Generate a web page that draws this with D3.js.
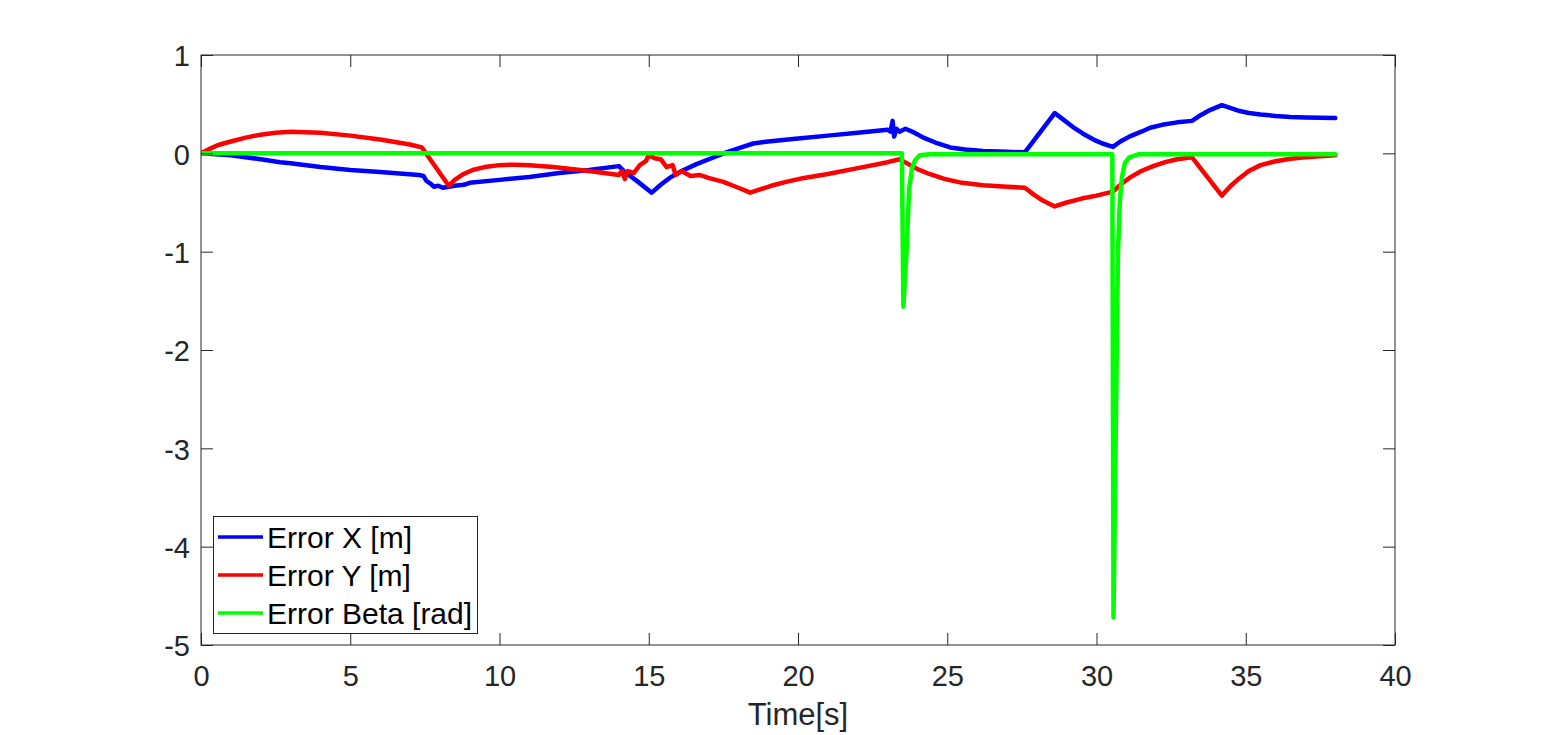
<!DOCTYPE html>
<html>
<head>
<meta charset="utf-8">
<script src="https://cdn.jsdelivr.net/npm/d3@7"></script>
<style>
  html, body { margin: 0; padding: 0; background: #ffffff; }
  svg { display: block; }
  text { font-family: "Liberation Sans", Arial, Helvetica, sans-serif; fill: #262626; }
</style>
</head>
<body>
<svg id="chart" width="1542" height="735"></svg>
<script>
// ---- Data ----
const xTicks = [0, 5, 10, 15, 20, 25, 30, 35, 40];
const yTicks = [1, 0, -1, -2, -3, -4, -5];
const seriesNames = ["Error X [m]", "Error Y [m]", "Error Beta [rad]"];
const seriesColors = ["#0000ff", "#ff0000", "#00ff00"];
const xLabel = "Time[s]";

// Error X [m]  : [time, value]
const errorX = [
  [0, 0], [1, -0.02], [2, -0.06], [2.65, -0.09], [3, -0.10], [4, -0.14], [5, -0.17],
  [6, -0.19], [7.3, -0.22], [7.45, -0.23], [7.55, -0.28], [7.7, -0.31], [7.8, -0.34],
  [7.95, -0.33], [8.1, -0.35], [8.3, -0.34], [8.5, -0.33], [8.8, -0.32], [9, -0.30],
  [10, -0.27], [11, -0.24], [12, -0.20], [13, -0.17], [14, -0.13], [14.2, -0.19],
  [14.6, -0.28], [15.1, -0.40], [15.4, -0.32], [15.7, -0.25], [16.1, -0.18],
  [16.6, -0.11], [17.1, -0.05], [17.6, 0.01], [18.1, 0.06], [18.5, 0.10], [19, 0.12],
  [20, 0.15], [21, 0.18], [22, 0.21], [23, 0.24],
  [23.1, 0.22], [23.17, 0.33], [23.22, 0.17], [23.3, 0.25], [23.4, 0.22], [23.6, 0.25],
  [23.9, 0.21], [24.2, 0.16], [24.6, 0.11], [25.1, 0.06], [25.6, 0.04], [26.2, 0.025],
  [27, 0.015], [27.6, 0.01],
  [28.6, 0.41], [28.9, 0.34], [29.2, 0.27], [29.55, 0.20], [29.9, 0.14], [30.2, 0.10],
  [30.55, 0.065], [30.8, 0.12], [31.1, 0.17], [31.5, 0.22], [31.8, 0.26], [32.2, 0.29],
  [32.7, 0.315], [33.2, 0.33], [33.5, 0.39], [33.8, 0.44], [34.2, 0.49],
  [34.5, 0.46], [34.8, 0.43], [35.1, 0.41], [35.5, 0.395], [36, 0.38], [36.5, 0.37],
  [37, 0.365], [38, 0.36]
];

// Error Y [m]
const errorY = [
  [0, 0], [0.25, 0.04], [0.5, 0.075], [0.75, 0.1], [1, 0.12], [1.5, 0.16], [2, 0.19],
  [2.5, 0.21], [3, 0.22], [4, 0.21], [5, 0.18], [6, 0.14], [7, 0.09], [7.4, 0.06],
  [8.3, -0.33], [8.5, -0.27], [8.8, -0.21], [9.1, -0.17], [9.5, -0.14], [10, -0.12],
  [10.5, -0.115], [11, -0.12], [11.8, -0.14], [13, -0.18],
  [14, -0.22], [14.1, -0.18], [14.2, -0.26], [14.3, -0.18], [14.5, -0.20], [14.7, -0.12],
  [14.9, -0.08], [15.0, -0.02], [15.2, -0.05], [15.4, -0.06], [15.6, -0.14], [15.8, -0.12],
  [15.9, -0.22], [16.1, -0.18], [16.4, -0.23], [16.7, -0.22], [17, -0.25], [17.5, -0.29],
  [18, -0.35], [18.4, -0.40], [18.7, -0.37], [19.1, -0.33], [19.6, -0.29], [20.2, -0.25],
  [21, -0.21], [22, -0.15], [23, -0.09], [23.4, -0.06],
  [23.7, -0.11], [24.0, -0.16], [24.4, -0.21], [24.9, -0.26], [25.5, -0.30],
  [26.2, -0.325], [27, -0.34], [27.6, -0.35], [27.9, -0.42], [28.2, -0.48], [28.6, -0.54],
  [29, -0.50], [29.5, -0.46], [30, -0.43], [30.55, -0.39],
  [30.8, -0.32], [31.1, -0.25], [31.5, -0.18], [31.9, -0.13], [32.3, -0.09], [32.7, -0.06],
  [33.2, -0.04], [34.2, -0.43], [34.5, -0.33], [34.8, -0.25], [35.1, -0.18], [35.5, -0.12],
  [36, -0.08], [36.5, -0.055], [37, -0.04], [37.5, -0.03], [38, -0.02]
];

// Error Beta [rad]
const errorBeta = [
  [0, 0], [23.48, 0], [23.53, -1.56], [23.64, -0.98], [23.72, -0.37], [23.82, -0.15],
  [23.92, -0.07], [24.08, -0.02], [24.4, -0.01], [30.53, -0.01], [30.57, -4.72],
  [30.68, -2.0], [30.72, -1.0], [30.78, -0.5], [30.85, -0.25], [30.95, -0.10],
  [31.1, -0.04], [31.4, -0.01], [38, -0.01]
];

const seriesData = [errorX, errorY, errorBeta];

// ---- Layout ----
const svg = d3.select("#chart");
const mLeft = 201, mRight = 1395, mTop = 55, mBottom = 645;
const x = d3.scaleLinear().domain([0, 40]).range([mLeft, mRight]);
const y = d3.scaleLinear().domain([-5, 1]).range([mBottom, mTop]);
const tickLen = 12;
const axisColor = "#262626";
const fmt = d => String(d);

// Lines (clipped to plot area)
svg.append("clipPath").attr("id", "clip")
  .append("rect").attr("x", mLeft).attr("y", mTop).attr("width", mRight - mLeft).attr("height", mBottom - mTop);

const line = d3.line().x(d => x(d[0])).y(d => y(d[1]));
const g = svg.append("g").attr("clip-path", "url(#clip)");
seriesData.forEach((s, i) => {
  g.append("path").datum(s)
    .attr("d", line)
    .attr("fill", "none")
    .attr("stroke", seriesColors[i])
    .attr("stroke-width", 4.5)
    .attr("stroke-linejoin", "round")
    .attr("stroke-linecap", "round");
});

// Axes
function styleAxis(sel) {
  sel.select(".domain").remove();
  sel.selectAll(".tick line").attr("stroke", axisColor).attr("stroke-width", 1);
  sel.selectAll("text").attr("fill", axisColor).style("font-family", "'Liberation Sans', Arial, Helvetica, sans-serif");
}

const xAxis = d3.axisBottom(x).tickValues(xTicks).tickFormat(fmt)
  .tickSizeInner(-tickLen).tickSizeOuter(0).tickPadding(20);
svg.append("g").attr("transform", `translate(0,${mBottom})`).call(xAxis).call(styleAxis)
  .selectAll("text").style("font-size", "29px");

const xAxisTop = d3.axisTop(x).tickValues(xTicks).tickFormat("")
  .tickSizeInner(-tickLen).tickSizeOuter(0);
svg.append("g").attr("transform", `translate(0,${mTop})`).call(xAxisTop).call(styleAxis);

const yAxis = d3.axisLeft(y).tickValues(yTicks).tickFormat(fmt)
  .tickSizeInner(-tickLen).tickSizeOuter(0).tickPadding(11);
svg.append("g").attr("transform", `translate(${mLeft},0)`).call(yAxis).call(styleAxis)
  .selectAll("text").style("font-size", "29px").attr("dy", "0.37em");

const yAxisRight = d3.axisRight(y).tickValues(yTicks).tickFormat("")
  .tickSizeInner(-tickLen).tickSizeOuter(0);
svg.append("g").attr("transform", `translate(${mRight},0)`).call(yAxisRight).call(styleAxis);

// Box
svg.append("rect")
  .attr("x", mLeft).attr("y", mTop).attr("width", mRight - mLeft).attr("height", mBottom - mTop)
  .attr("fill", "none").attr("stroke", axisColor).attr("stroke-width", 1);

// X label
svg.append("text")
  .attr("x", (mLeft + mRight) / 2).attr("y", 725)
  .attr("text-anchor", "middle")
  .style("font-size", "31px")
  .text(xLabel);

// Legend
const lg = svg.append("g");
lg.append("rect")
  .attr("x", 213.5).attr("y", 516.5).attr("width", 264).attr("height", 117)
  .attr("fill", "#ffffff").attr("stroke", axisColor).attr("stroke-width", 1);
const rowY = [537, 575, 613];
seriesNames.forEach((name, i) => {
  lg.append("line")
    .attr("x1", 218).attr("x2", 263).attr("y1", rowY[i]).attr("y2", rowY[i])
    .attr("stroke", seriesColors[i]).attr("stroke-width", 3.5);
  lg.append("text")
    .attr("x", 267).attr("y", rowY[i] + 11)
    .style("font-size", "30px")
    .style("fill", "#000000")
    .text(name);
});
</script>
</body>
</html>
